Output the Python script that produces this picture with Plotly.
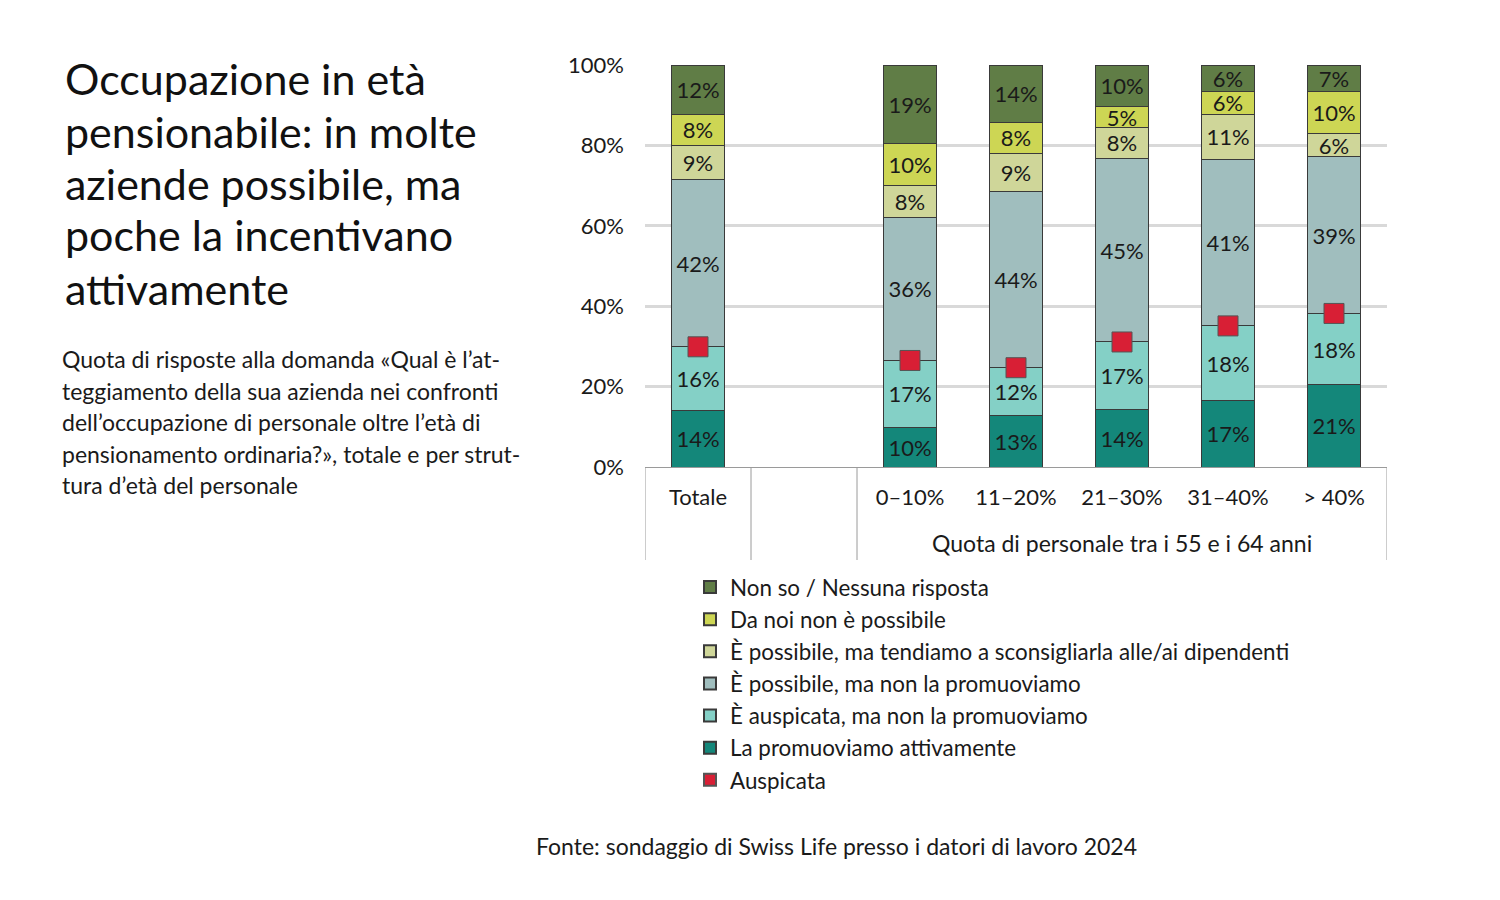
import plotly.graph_objects as go

FONT = "Lato"
TXT = "#1a1a1a"

categories = ["Totale", " ", "0–10%", "11–20%", "21–30%", "31–40%", "> 40%"]
group_categories = ["0–10%", "11–20%", "21–30%", "31–40%", "> 40%"]
group_label = "Quota di personale tra i 55 e i 64 anni"

y_tick_values = [0, 20, 40, 60, 80, 100]
y_tick_labels = ["0%", "20%", "40%", "60%", "80%", "100%"]

# stacked series (bottom -> top); None for the empty spacer slot
promuoviamo = [14.0, None, 9.9, 12.8, 14.2, 16.6, 20.5]
auspicata_np = [15.9, None, 16.6, 11.9, 16.9, 18.5, 17.7]
possibile_np = [41.6, None, 35.6, 43.9, 45.6, 41.3, 39.0]
sconsigliarla = [8.6, None, 8.0, 9.4, 7.8, 11.4, 5.8]
non_possibile = [7.6, None, 10.4, 7.8, 5.1, 5.7, 10.5]
non_so = [12.3, None, 19.5, 14.2, 10.4, 6.5, 6.5]

# printed labels
lbl_promuoviamo = ["14%", "", "10%", "13%", "14%", "17%", "21%"]
lbl_auspicata_np = ["16%", "", "17%", "12%", "17%", "18%", "18%"]
lbl_possibile_np = ["42%", "", "36%", "44%", "45%", "41%", "39%"]
lbl_sconsigliarla = ["9%", "", "8%", "9%", "8%", "11%", "6%"]
lbl_non_possibile = ["8%", "", "10%", "8%", "5%", "6%", "10%"]
lbl_non_so = ["12%", "", "19%", "14%", "10%", "6%", "7%"]

# red markers
auspicata = [29.9, None, 26.5, 24.7, 31.1, 35.1, 38.2]

series = [
    ("La promuoviamo attivamente", promuoviamo, lbl_promuoviamo, "#14877A", 6),
    ("È auspicata, ma non la promuoviamo", auspicata_np, lbl_auspicata_np, "#84D0C6", 5),
    ("È possibile, ma non la promuoviamo", possibile_np, lbl_possibile_np, "#A0BEBE", 4),
    ("È possibile, ma tendiamo a sconsigliarla alle/ai dipendenti", sconsigliarla, lbl_sconsigliarla, "#CFD699", 3),
    ("Da noi non è possibile", non_possibile, lbl_non_possibile, "#CDD654", 2),
    ("Non so / Nessuna risposta", non_so, lbl_non_so, "#607D46", 1),
]

title_lines = ["Occupazione in età", "pensionabile: in molte", "aziende possibile, ma",
               "poche la incentivano", "attivamente"]
subtitle_lines = ["Quota di risposte alla domanda «Qual è l’at-",
                  "teggiamento della sua azienda nei confronti",
                  "dell’occupazione di personale oltre l’età di",
                  "pensionamento ordinaria?», totale e per strut-",
                  "tura d’età del personale"]
source_text = "Fonte: sondaggio di Swiss Life presso i datori di lavoro 2024"

# plot-area geometry in pixels (for converting layout positions)
PL, PR, PT, PB = 645, 1387, 65, 467
PW, PH = PR - PL, PB - PT


def px(x):
    return (x - PL) / PW


def py(y):
    return (PB - y) / PH


fig = go.Figure()
for name, vals, lbls, color, rank in series:
    fig.add_trace(go.Bar(
        x=categories, y=vals, name=name, text=lbls,
        texttemplate="%{text}", textposition="inside", insidetextanchor="middle",
        textangle=0, constraintext="none",
        textfont=dict(family=FONT, size=22, color=TXT),
        marker=dict(color=color, line=dict(color="#3a3a3a", width=1)),
        legendrank=rank, legendgroup=name, hoverinfo="skip",
    ))

fig.add_trace(go.Scatter(
    x=categories, y=auspicata, name="Auspicata", mode="markers",
    marker=dict(symbol="square", size=20, color="#D81F35", line=dict(color="#555555", width=1)),
    legendrank=7, legendgroup="Auspicata", hoverinfo="skip",
))

# axis decoration: dividers under the category axis
for xb in [-0.5, 0.5, 1.5, len(categories) - 0.5]:
    fig.add_shape(type="line", xref="x", yref="paper", x0=xb, x1=xb, y0=0, y1=py(560),
                  line=dict(color="#9a9a9a", width=1))

grp_center = sum(categories.index(c) for c in group_categories) / len(group_categories)
fig.add_annotation(xref="x", yref="paper", x=grp_center, y=py(543), text=group_label,
                   showarrow=False, yanchor="middle",
                   font=dict(family=FONT, size=23, color=TXT))

title_y = [79, 131, 183, 235, 288]
for line, yy in zip(title_lines, title_y):
    fig.add_annotation(xref="paper", yref="paper", x=px(63), y=py(yy),
                       xanchor="left", yanchor="middle", showarrow=False, text=line,
                       font=dict(family=FONT, size=43, color="#111111"))

sub_y = [359, 390.5, 422, 453.5, 485]
for line, yy in zip(subtitle_lines, sub_y):
    fig.add_annotation(xref="paper", yref="paper", x=px(60), y=py(yy),
                       xanchor="left", yanchor="middle", showarrow=False, text=line,
                       font=dict(family=FONT, size=23, color=TXT))

fig.add_annotation(xref="paper", yref="paper", x=px(836), y=py(846),
                   xanchor="center", yanchor="middle", showarrow=False,
                   text=source_text,
                   font=dict(family=FONT, size=23, color=TXT))

fig.update_layout(
    width=1500, height=900,
    margin=dict(l=PL, r=1500 - PR, t=PT, b=900 - PB),
    paper_bgcolor="white", plot_bgcolor="white",
    barmode="stack", bargap=0.5,
    font=dict(family=FONT, size=22, color=TXT),
    showlegend=True,
    legend=dict(x=px(690), y=py(566), xanchor="left", yanchor="top",
                traceorder="grouped", tracegroupgap=0, itemsizing="constant",
                font=dict(family=FONT, size=22.4, color=TXT), bgcolor="rgba(0,0,0,0)"),
    xaxis=dict(type="category", categoryorder="array", categoryarray=categories,
               range=[-0.5, len(categories) - 0.5], showgrid=False,
               showline=True, linecolor="#9a9a9a", linewidth=1,
               ticks="", ticklabelstandoff=11,
               tickfont=dict(family=FONT, size=22, color=TXT)),
    yaxis=dict(range=[0, 100], tickmode="array", tickvals=y_tick_values, ticktext=y_tick_labels,
               showgrid=True, gridcolor="#D9D9D9", gridwidth=2.5, zeroline=False,
               showline=False, ticks="", ticklabelstandoff=20,
               tickfont=dict(family=FONT, size=22, color=TXT)),
)

fig.write_html("out.html")
